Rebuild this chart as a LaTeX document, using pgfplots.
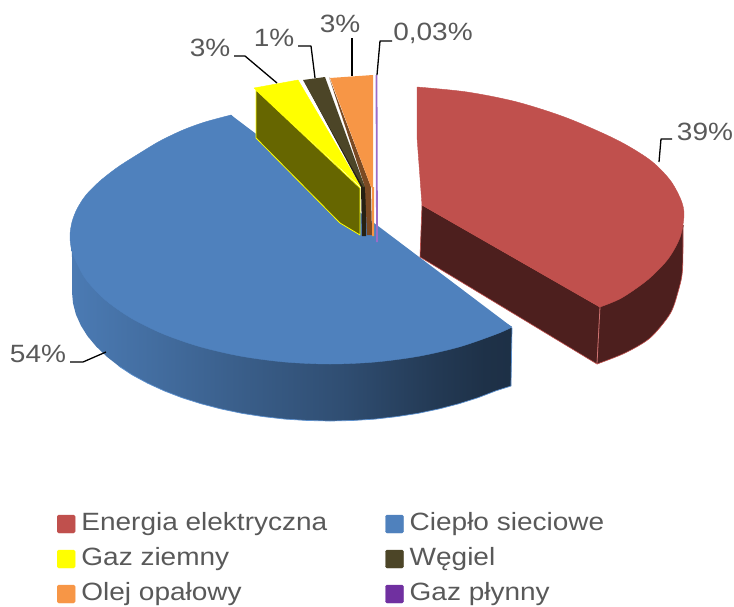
\documentclass[border=0pt]{standalone}
\usepackage{fontspec}
\setmainfont[FakeStretch=1.12]{Liberation Sans}
\usepackage{pgfplots}
\pgfplotsset{compat=1.18}
\definecolor{cRed}{HTML}{C0504D}
\definecolor{cRedD}{HTML}{4D1F1E}
\definecolor{cBlue}{HTML}{4F81BD}
\definecolor{cBlueE}{HTML}{5C90CE}
\definecolor{cYel}{HTML}{FFFF00}
\definecolor{cOli}{HTML}{666600}
\definecolor{cCoal}{HTML}{4C4527}
\definecolor{cCoalD}{HTML}{262012}
\definecolor{cOr}{HTML}{F79646}
\definecolor{cOrD}{HTML}{7B4A23}
\definecolor{cPur}{HTML}{7030A0}
\definecolor{cPurL}{HTML}{9A6CC8}
\definecolor{cTxt}{HTML}{595959}
\pgfdeclarehorizontalshading{bluedepth}{100bp}{
 color(0bp)=(cBlue!95!black);
 color(25bp)=(cBlue!95!black);
 color(34bp)=(cBlue!85!black);
 color(45bp)=(cBlue!72!black);
 color(56bp)=(cBlue!60!black);
 color(66bp)=(cBlue!45!black);
 color(72bp)=(cBlue!38!black);
 color(75bp)=(cBlue!37!black);
 color(100bp)=(cBlue!37!black)}
\newcommand{\lsq}[1]{\addlegendimage{legend image code/.code={\fill[#1,rounded corners=1.5pt] (0pt,-9pt) rectangle (18pt,9pt);}}}
\begin{document}
\begin{tikzpicture}
\useasboundingbox (0,0) rectangle (734pt,606pt);
\begin{axis}[
 at={(0,0)},anchor=south west,scale only axis,width=734pt,height=606pt,
 xmin=0,xmax=734,ymin=0,ymax=606,y dir=reverse,axis lines=none,clip=false,
 legend columns=2,legend cell align=left,
 legend style={at={(axis cs:57,512)},anchor=north west,draw=none,fill=none,inner sep=0pt,outer sep=0pt,
   font=\fontsize{25}{28}\selectfont,text=cTxt,row sep=11pt,
   nodes={text height=18pt,text depth=6pt,inner sep=0pt},
   /tikz/every even column/.append style={column sep=58pt},
   /tikz/every odd column/.append style={column sep=6pt}},
 every axis plot/.append style={forget plot,line join=round},
]
\lsq{cRed}\addlegendentry{Energia elektryczna}
\lsq{cBlue}\addlegendentry{Ciepło sieciowe}
\lsq{cYel}\addlegendentry{Gaz ziemny}
\lsq{cCoal}\addlegendentry{Węgiel}
\lsq{cOr}\addlegendentry{Olej opałowy}
\lsq{cPur}\addlegendentry{Gaz płynny}

% blue side
\addplot[shading=bluedepth,draw=none] coordinates {
 (71,235)(72,257)(72,280)(72,292)(73,303.2)(75.9,314.4)(80.8,325.4)(87.5,336.1)(96.2,346.5)(106.6,356.5)(118.7,366)(132.4,375)(147.6,383.2)(164.1,390.8)(182,397.7)(201,403.7)(220.9,408.9)(241.8,413.3)(263.2,416.6)(285.1,419.1)(307.6,420.5)(330,421)(352.4,420.5)(374.9,419.1)(396.8,416.6)(418.2,413.3)(439.1,408.9)(459,403.7)(478,397.7)(495.9,390.8)(511,386)
 (512,328)(330,300)(71,235)};
\addplot[cBlueE,line width=0.7pt] coordinates {
 (118.7,366)(132.4,375)(147.6,383.2)(164.1,390.8)(182,397.7)(201,403.7)(220.9,408.9)(241.8,413.3)(263.2,416.6)(285.1,419.1)(307.6,420.5)(330,421)(352.4,420.5)(374.9,419.1)(396.8,416.6)(418.2,413.3)(439.1,408.9)(459,403.7)(478,397.7)(495.9,390.8)(511,386)(512,328)};
% blue top
\addplot[fill=cBlue,draw=none] coordinates {(231,115)(130,250)(330,340)(512,327.1)(338,221)(231,115)};
\addplot[smooth,fill=cBlue,draw=cBlue,line width=0.4pt] coordinates {
 (231,115)(205,122)(183,130)(160,141)(140,153)(118,167)(100,181)(86,195)(77,209)(72,222)(70,235)(71,247)(74.5,258)(85.7,279.1)(104.8,299.5)(130.8,317.9)(162.9,333.8)(200,346.7)(241.1,356.2)(284.9,362)(330,364)(375.1,362)(418.9,356.2)(460,346.7)(497.1,333.8)(512,327.1)};
\addplot[cBlue,line width=0.5pt] coordinates {(231,115)(338,221)(512,327.1)};
% red side
\addplot[fill=cRedD,draw=cRed,line width=0.6pt] coordinates {(422,205)(600,307)(597,364)(420,257)(422,205)};
\addplot[fill=cRedD,draw=none] coordinates {(684,225)(600,300)(597,364)(650,320)(684,225)};
\addplot[smooth,fill=cRedD,draw=cRed,line width=0.6pt] coordinates {(683,225)(682.5,270)(678,292)(670,314)(650,338)(625,353)(597,364)};
% red top
\addplot[fill=cRed,draw=none] coordinates {(417,87)(640,200)(600,307)(422,205)(417,137)(417,87)};
\addplot[smooth,fill=cRed,draw=cRed,line width=0.4pt] coordinates {
 (417,87)(467,92)(517,102)(567,118)(617,140)(650,160)(670,180)(681,200)(684,215)(680,237.4)(668,259)(648,279.5)(621.5,298)(600,307)};
\addplot[cRed,line width=0.4pt] coordinates {(600,307)(422,205)(417,137)(417,87)};
\addplot[cRed!80!white,line width=0.8pt] coordinates {(600,307)(597,364)};
% yellow
\addplot[fill=cOli,draw=cYel,line width=0.8pt] coordinates {(256,90)(256,138)(340,223)(360,235)(360,188)(256,90)};
\addplot[fill=cYel,draw=cYel,line width=0.4pt] coordinates {(254,88)(298,80)(361,187)(254,88)};
% coal
\addplot[fill=cCoalD,draw=none] coordinates {(305,83)(361,187)(362,236)(366,236)(366,188)(305,83)};
\addplot[fill=cCoal,draw=none] coordinates {(303,80)(325,77)(365,187)(363,187)(303,80)};
% oil
\addplot[fill=cOrD,draw=none] coordinates {(329,77)(371,187)(372,235)(367,235)(365,187)(329,77)};
\addplot[fill=cOr,draw=none] coordinates {(330,78)(373,75)(373,188)(371,187)(330,78)};
\addplot[fill=cOr,draw=none] coordinates {(372,187)(374,187)(374,236)(372,236)(372,187)};
% purple
\addplot[draw=cPurL,line width=1.8pt] coordinates {(376.5,75)(377,242)};
% leaders
\addplot[black,line width=1.3pt] coordinates {(659,162)(661,139)(672,139)};
\addplot[black,line width=1.3pt] coordinates {(106,352)(83,362)(70,362)};
\addplot[black,line width=1.3pt] coordinates {(277,83)(245,56)(234,56)};
\addplot[black,line width=1.3pt] coordinates {(315,78)(311,46)(298,46)};
\addplot[black,line width=1.3pt] coordinates {(352,76)(352,38)};
\addplot[black,line width=1.3pt] coordinates {(377,75)(380,41)(392,41)};
% labels
\tikzset{lab/.style={text=cTxt,font=\fontsize{25}{28}\selectfont,inner sep=0pt}}
\node[lab] at (axis cs:705,132) {39\%};
\node[lab] at (axis cs:38,354) {54\%};
\node[lab] at (axis cs:210,48) {3\%};
\node[lab] at (axis cs:274,38) {1\%};
\node[lab] at (axis cs:340,24) {3\%};
\node[lab] at (axis cs:433,33) {0,03\%};
\end{axis}
\end{tikzpicture}
\end{document}
